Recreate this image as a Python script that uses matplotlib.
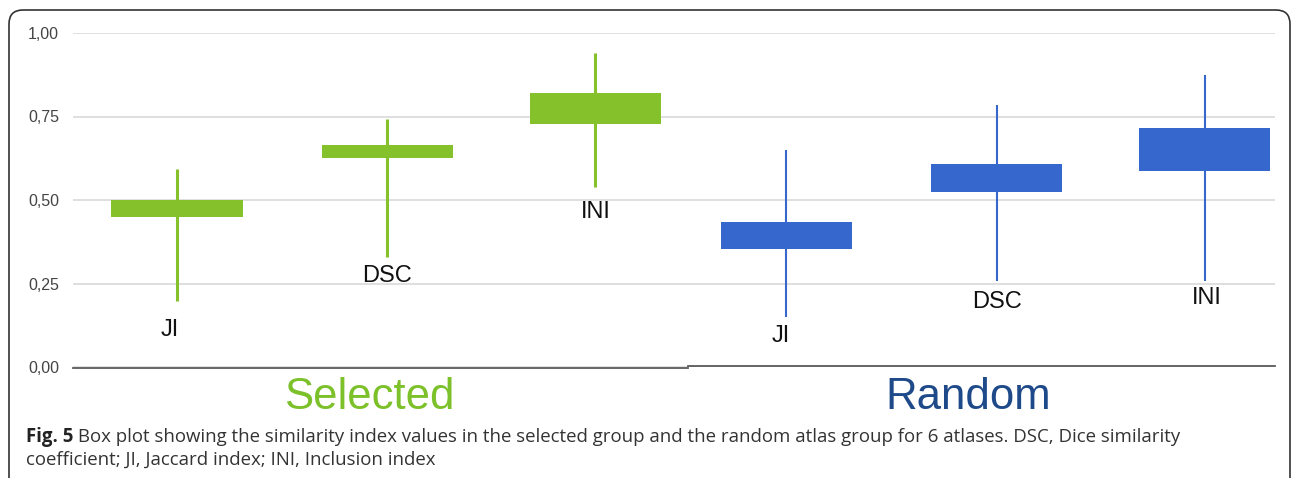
"""
Box plot of similarity indices (JI, DSC, INI) for the selected and random atlas groups.
"""

import matplotlib.pyplot as plt
from matplotlib.patches import FancyBboxPatch
from matplotlib.ticker import FuncFormatter

# %% Data
groups = ["Selected", "Random"]
labels = ["JI", "DSC", "INI", "JI", "DSC", "INI"]
q1 = [0.449, 0.626, 0.728, 0.353, 0.524, 0.587]
q3 = [0.500, 0.665, 0.820, 0.434, 0.608, 0.716]
whis_lo = [0.198, 0.329, 0.539, 0.150, 0.257, 0.257]
whis_hi = [0.593, 0.743, 0.940, 0.650, 0.784, 0.874]
label_y = [0.11, 0.272, 0.465, 0.092, 0.195, 0.207]
yticks = [0.0, 0.25, 0.5, 0.75, 1.0]

caption_bold = "Fig. 5"
caption_1 = (" Box plot showing the similarity index values in the selected group "
             "and the random atlas group for 6 atlases. DSC, Dice similarity")
caption_2 = "coefficient; JI, Jaccard index; INI, Inclusion index"

# %% Style
GREEN = "#84c12a"
BLUE = "#3567cc"
GREEN_TXT = "#7cc12a"
BLUE_TXT = "#1f4a8a"
W, H = 1292, 478
positions = [0.50, 1.51, 2.51, 3.43, 4.44, 5.44]
label_dx = [-0.035, 0.0, 0.005, -0.025, 0.0, 0.01]
BOX_W = 0.63
XMAX = 1202 / 208
CAP_FS = 13.4

plt.rcParams["font.family"] = ["Liberation Sans", "DejaVu Sans"]

fig = plt.figure(figsize=(W / 100, H / 100), dpi=100)
ax = fig.add_axes([73 / W, (H - 367) / H, 1202 / W, 334 / H])

colors = [GREEN] * 3 + [BLUE] * 3
lws = [2.2] * 3 + [1.5] * 3
for i, x in enumerate(positions):
    ax.vlines(x, whis_lo[i], whis_hi[i], color=colors[i], lw=lws[i], zorder=3)
    ax.bar(x, q3[i] - q1[i], bottom=q1[i], width=BOX_W, color=colors[i],
           edgecolor="none", zorder=4)
    ax.text(x + label_dx[i], label_y[i], labels[i], ha="center", va="center",
            fontsize=17, color="#111111")

ax.set_xlim(0, XMAX)
ax.set_ylim(0, 1)
ax.set_xticks([])
ax.set_yticks(yticks)
ax.yaxis.set_major_formatter(FuncFormatter(lambda v, p: f"{v:.2f}".replace(".", ",")))
ax.tick_params(axis="y", length=0, pad=10, labelsize=11.5, labelcolor="#444444")
ax.grid(axis="y", color="#dcdcdc", lw=1.3)
ax.set_axisbelow(True)
for s in ax.spines.values():
    s.set_visible(False)
# zero line is drawn in two slightly offset pieces, as in the original
ax.axhline(-0.002, xmin=0, xmax=615 / 1202, color="#5a5a5a", lw=1.3, zorder=2, clip_on=False)
ax.axhline(0.002, xmin=615 / 1202, xmax=1, color="#5a5a5a", lw=1.3, zorder=2, clip_on=False)

# group names under the axis
fig.text(369 / W, 1 - 409 / H, groups[0], ha="center", va="baseline",
         fontsize=31.5, color=GREEN_TXT)
fig.text(968 / W, 1 - 409 / H, groups[1], ha="center", va="baseline",
         fontsize=31.5, color=BLUE_TXT)

# caption
t_bold = fig.text(26 / W, 1 - 442 / H, caption_bold, ha="left", va="baseline",
                  fontsize=CAP_FS, fontweight="bold", family="Open Sans", color="#222222")
fig.canvas.draw()
bb = t_bold.get_window_extent()
fig.text(bb.x1 / W, 1 - 442 / H, caption_1, ha="left", va="baseline",
         fontsize=CAP_FS, family="Open Sans", color="#333333")
fig.text(26 / W, 1 - 465 / H, caption_2, ha="left", va="baseline",
         fontsize=CAP_FS, family="Open Sans", color="#333333")

# rounded frame
frame = fig.add_axes([0, 0, 1, 1], zorder=-1)
frame.set_xlim(0, W)
frame.set_ylim(H, 0)
frame.axis("off")
frame.add_patch(FancyBboxPatch((9, 10), 1281, 540, boxstyle="round,pad=0,rounding_size=14",
                               fc="none", ec="#333333", lw=1.2, clip_on=False))

fig.savefig("out.png", dpi=100)
